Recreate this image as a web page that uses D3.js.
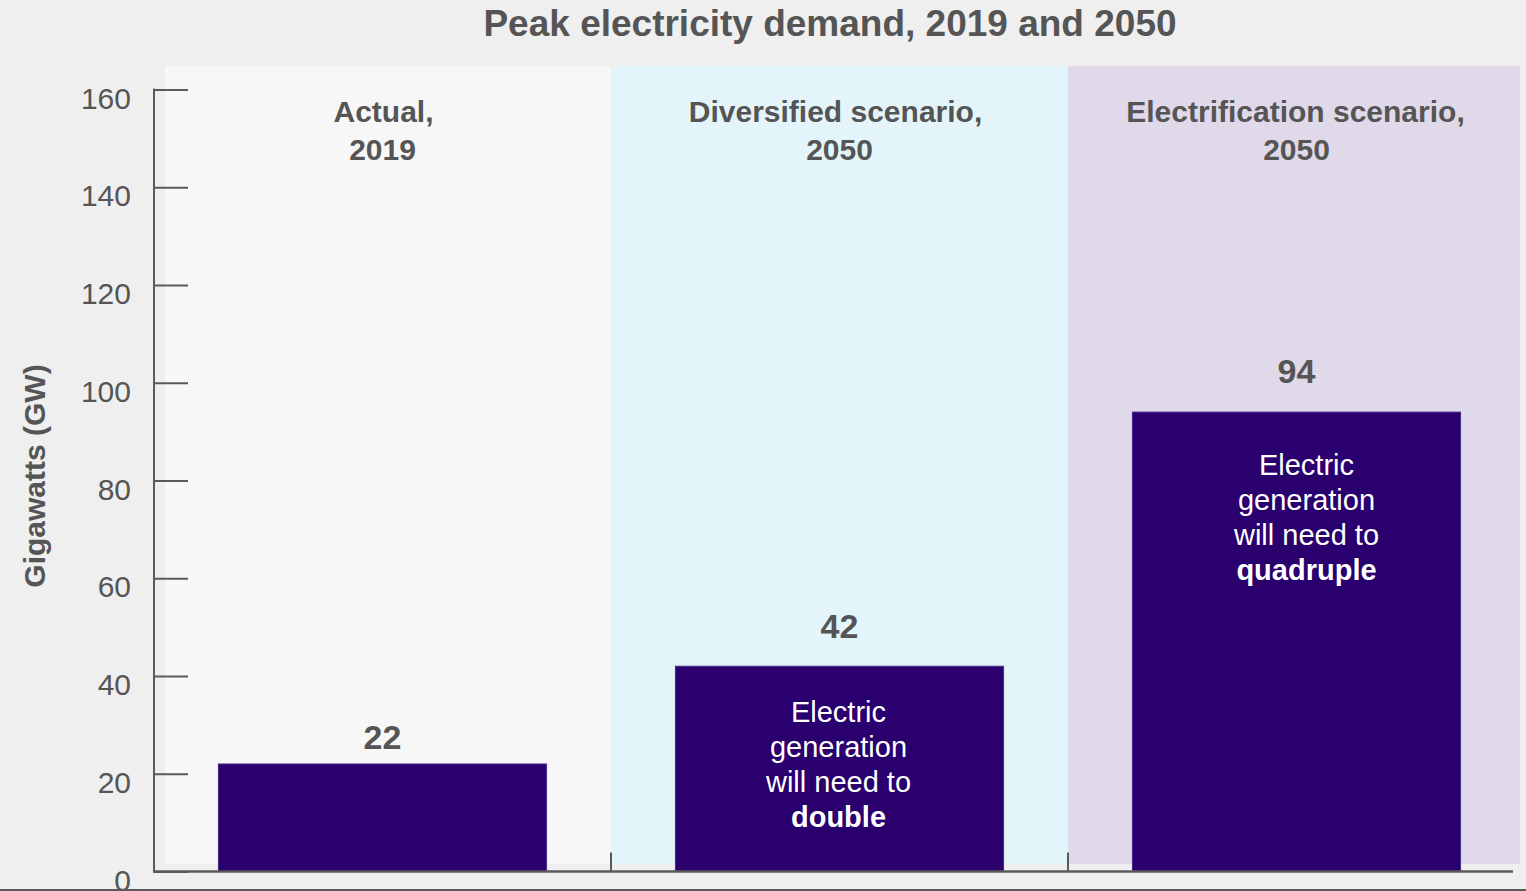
<!DOCTYPE html>
<html>
<head>
<meta charset="utf-8">
<script src="https://cdn.jsdelivr.net/npm/d3@7"></script>
<style>
  html, body { margin: 0; padding: 0; background: #efefef; }
  svg { display: block; font-family: "Liberation Sans", Arial, sans-serif; }
</style>
</head>
<body>
<svg id="chart" width="1526" height="891"></svg>
<script>
// Peak electricity demand (GW) by scenario
const categories = ["actual", "diversified", "electrification"];
const headings = [["Actual,", "2019"], ["Diversified scenario,", "2050"], ["Electrification scenario,", "2050"]];
const peakDemand = [22, 42, 94];
const notes = [null, ["Electric", "generation", "will need to", "double"], ["Electric", "generation", "will need to", "quadruple"]];
const yTicks = [0, 20, 40, 60, 80, 100, 120, 140, 160];
const panelColors = ["#f7f7f7", "#e3f5fa", "#e0d9e9"];

const W = 1526, H = 891;
const plotLeft = 154, plotRight = 1525, plotTop = 89.5, plotBottom = 871.5;
const ink = "#555555", axisInk = "#5a5a5a", barFill = "#29006e";

const svg = d3.select("#chart");
svg.append("rect").attr("width", W).attr("height", H).attr("fill", "#efefef");

const x = d3.scaleBand().domain(categories).range([plotLeft, plotRight]).padding(0);
const xBar = d3.scaleBand().domain(categories).range([plotLeft, plotRight]).paddingInner(0.282).paddingOuter(0.141);
const y = d3.scaleLinear().domain([0, 160]).range([plotBottom, plotTop]);

// Scenario panels
svg.append("g").selectAll("rect").data(categories).join("rect")
  .attr("x", d => Math.max(x(d), 165))
  .attr("y", 66)
  .attr("width", d => Math.min(x(d) + x.bandwidth(), 1520) - Math.max(x(d), 165))
  .attr("height", 864 - 66)
  .attr("fill", (d, i) => panelColors[i]);

// Title
svg.append("text").attr("x", 830).attr("y", 36).attr("text-anchor", "middle")
  .attr("font-size", 37).attr("font-weight", "bold").attr("fill", ink)
  .text("Peak electricity demand, 2019 and 2050");

// Panel headings
const headingShift = [1, -4, -1];
const hd = svg.append("g").selectAll("text").data(categories).join("text")
  .attr("text-anchor", "middle").attr("font-size", 30).attr("font-weight", "bold").attr("fill", ink);
hd.each(function(d, i) {
  const t = d3.select(this);
  headings[i].forEach((line, k) => {
    t.append("tspan")
      .attr("x", x(d) + x.bandwidth() / 2 + (k === 0 ? headingShift[i] : 0))
      .attr("y", 122 + k * 37.5).text(line);
  });
});

// Bars
svg.append("g").selectAll("rect").data(categories).join("rect")
  .attr("x", d => xBar(d))
  .attr("y", (d, i) => y(peakDemand[i]))
  .attr("width", xBar.bandwidth())
  .attr("height", (d, i) => y(0) - y(peakDemand[i]))
  .attr("fill", barFill)
  .attr("stroke", "#4a2a8c").attr("stroke-width", 1);

// Value labels
const labelGap = [15, 28, 29];
svg.append("g").selectAll("text").data(categories).join("text")
  .attr("x", d => xBar(d) + xBar.bandwidth() / 2)
  .attr("y", (d, i) => y(peakDemand[i]) - labelGap[i])
  .attr("text-anchor", "middle").attr("font-size", 34).attr("font-weight", "bold").attr("fill", ink)
  .text((d, i) => peakDemand[i]);

// Notes inside bars
const noteTop = [0, 56, 63];
const noteShift = [0, -1, 10];
categories.forEach((c, i) => {
  if (!notes[i]) return;
  const t = svg.append("text").attr("text-anchor", "middle").attr("font-size", 29).attr("fill", "#ffffff");
  notes[i].forEach((line, k) => {
    t.append("tspan")
      .attr("x", xBar(c) + xBar.bandwidth() / 2 + noteShift[i])
      .attr("y", y(peakDemand[i]) + noteTop[i] + k * 35)
      .attr("font-weight", k === notes[i].length - 1 ? "bold" : "normal")
      .text(line);
  });
});

// Y axis
const yAxis = svg.append("g").attr("transform", `translate(${plotLeft},0)`)
  .call(d3.axisRight(y).tickValues(yTicks).tickSize(34).tickFormat(""));
yAxis.select(".domain").remove();
yAxis.selectAll("line").attr("stroke", axisInk).attr("stroke-width", 2);
svg.append("line").attr("x1", plotLeft).attr("x2", plotLeft).attr("y1", y(160) - 1).attr("y2", plotBottom + 1)
  .attr("stroke", axisInk).attr("stroke-width", 2);
svg.append("g").selectAll("text").data(yTicks).join("text")
  .attr("x", 131).attr("y", d => y(d) + 8.5).attr("dy", "0.35em")
  .attr("text-anchor", "end").attr("font-size", 30).attr("fill", ink)
  .text(d => d);

// Y axis title
svg.append("text").attr("transform", "translate(45,476) rotate(-90)")
  .attr("text-anchor", "middle").attr("font-size", 30).attr("font-weight", "bold").attr("fill", ink)
  .text("Gigawatts (GW)");

// X axis with dividers between panels
svg.append("line").attr("x1", plotLeft - 1).attr("x2", 1513).attr("y1", plotBottom).attr("y2", plotBottom)
  .attr("stroke", axisInk).attr("stroke-width", 2.5);
svg.append("g").selectAll("line").data(categories.slice(1)).join("line")
  .attr("x1", d => x(d)).attr("x2", d => x(d))
  .attr("y1", plotBottom - 19).attr("y2", plotBottom)
  .attr("stroke", axisInk).attr("stroke-width", 2);

// Bottom rule
svg.append("rect").attr("x", 0).attr("y", 889).attr("width", W).attr("height", 2).attr("fill", "#5a5a5a");
</script>
</body>
</html>
